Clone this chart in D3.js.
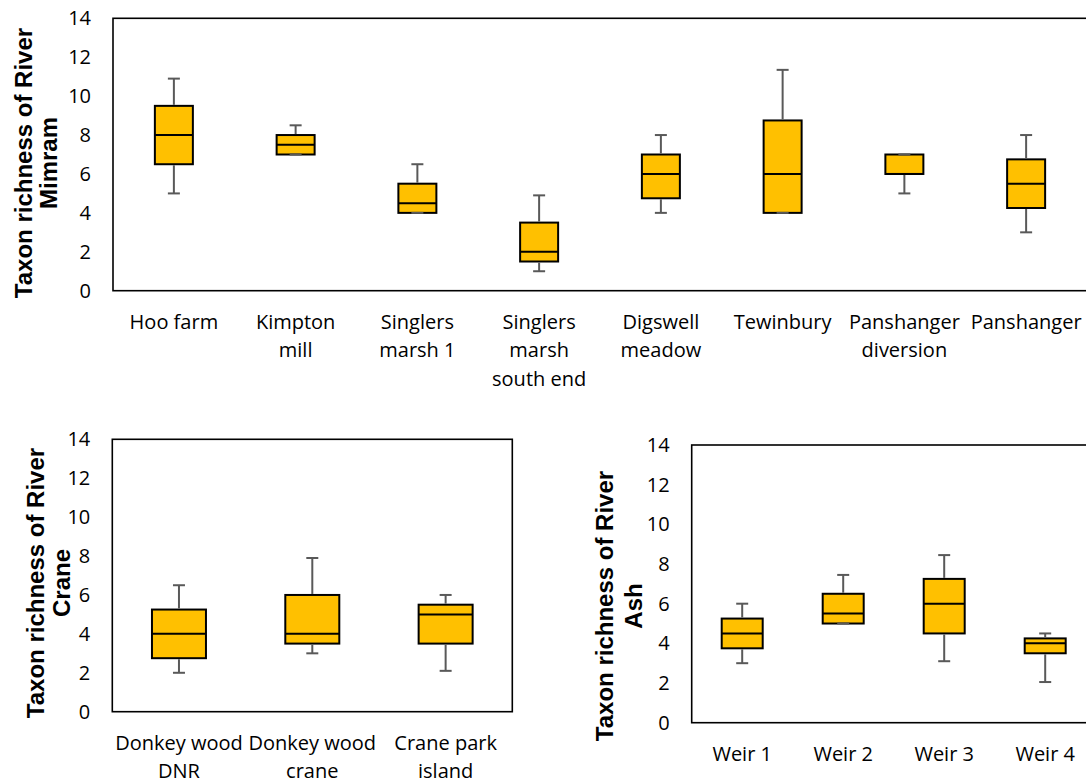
<!DOCTYPE html>
<html>
<head>
<meta charset="utf-8">
<script src="https://cdn.jsdelivr.net/npm/d3@7"></script>
<style>
  html, body { margin: 0; padding: 0; background: #fff; overflow: hidden; }
  svg { display: block; }
</style>
</head>
<body>
<svg id="chart" width="1086" height="782"></svg>
<script>
// Shared y-axis ticks (taxon richness)
const yTicks = [0, 2, 4, 6, 8, 10, 12, 14];

// River Mimram sites
const mimramSites  = ["Hoo farm", "Kimpton\nmill", "Singlers\nmarsh 1", "Singlers\nmarsh\nsouth end",
                      "Digswell\nmeadow", "Tewinbury", "Panshanger\ndiversion", "Panshanger"];
const mimramLow    = [5, 7, 4, 1, 4, 4, 5, 3];
const mimramQ1     = [6.5, 7, 4, 1.5, 4.75, 4, 6, 4.25];
const mimramMedian = [8, 7.5, 4.5, 2, 6, 6, 6, 5.5];
const mimramQ3     = [9.5, 8, 5.5, 3.5, 7, 8.75, 7, 6.75];
const mimramHigh   = [10.9, 8.5, 6.5, 4.9, 8, 11.35, 7, 8];

// River Crane sites
const craneSites  = ["Donkey wood\nDNR", "Donkey wood\ncrane", "Crane park\nisland"];
const craneLow    = [2, 3, 2.1];
const craneQ1     = [2.75, 3.5, 3.5];
const craneMedian = [4, 4, 5];
const craneQ3     = [5.25, 6, 5.5];
const craneHigh   = [6.5, 7.9, 6];

// River Ash sites
const ashSites  = ["Weir 1", "Weir 2", "Weir 3", "Weir 4"];
const ashLow    = [3, 5, 3.1, 2.05];
const ashQ1     = [3.75, 5, 4.5, 3.5];
const ashMedian = [4.5, 5.5, 6, 4];
const ashQ3     = [5.25, 6.5, 7.25, 4.25];
const ashHigh   = [6, 7.45, 8.45, 4.5];

const svg = d3.select("#chart");
const BOX_FILL = "#FFC000";
const WHISKER = "#595959";
const TICK_FONT = "'Open Sans', sans-serif";
const TITLE_FONT = "'Liberation Sans', Arial, sans-serif";

function buildRows(sites, low, q1, med, q3, high) {
  return sites.map((s, i) => ({ site: s, low: low[i], q1: q1[i], med: med[i], q3: q3[i], high: high[i] }));
}

function drawPanel(opt) {
  const g = svg.append("g");
  const y = d3.scaleLinear().domain([0, 14]).range([opt.bottom, opt.top]);
  const x = d3.scaleBand().domain(opt.rows.map(d => d.site)).range([opt.left, opt.right]);

  // plot frame
  g.append("rect")
    .attr("x", opt.left).attr("y", opt.top)
    .attr("width", opt.right - opt.left).attr("height", opt.bottom - opt.top)
    .attr("fill", "none").attr("stroke", "#000").attr("stroke-width", 1.6);

  // y axis labels
  const yAxis = g.append("g")
    .attr("transform", `translate(${opt.left},0)`)
    .call(d3.axisLeft(y).tickValues(yTicks).tickSize(0).tickPadding(22));
  yAxis.select(".domain").remove();
  yAxis.selectAll("text")
    .attr("font-family", TICK_FONT).attr("font-size", 20).attr("fill", "#000");

  // x axis labels (multi-line)
  const xAxis = g.append("g")
    .attr("transform", `translate(0,${opt.bottom})`)
    .call(d3.axisBottom(x).tickSize(0).tickFormat(""));
  xAxis.select(".domain").remove();
  xAxis.selectAll(".tick").each(function(d) {
    const t = d3.select(this).select("text")
      .attr("font-family", TICK_FONT).attr("font-size", 20).attr("fill", "#000")
      .attr("y", 38).attr("dy", null).text(null);
    d.split("\n").forEach((line, i) => {
      t.append("tspan").attr("x", 0).attr("y", 38 + i * 28.5).text(line);
    });
  });

  const cx = d => x(d.site) + x.bandwidth() / 2;
  const bw = opt.boxWidth;
  const boxes = g.selectAll(".box").data(opt.rows).join("g").attr("class", "box");

  boxes.append("rect")
    .attr("x", d => cx(d) - bw / 2)
    .attr("y", d => y(d.q3))
    .attr("width", bw)
    .attr("height", d => y(d.q1) - y(d.q3))
    .attr("fill", BOX_FILL).attr("stroke", "#000").attr("stroke-width", 2);

  boxes.append("line")
    .attr("x1", d => cx(d) - bw / 2).attr("x2", d => cx(d) + bw / 2)
    .attr("y1", d => y(d.med)).attr("y2", d => y(d.med))
    .attr("stroke", "#000").attr("stroke-width", 2);

  // whiskers with caps
  [["high", "q3"], ["low", "q1"]].forEach(([end, edge]) => {
    boxes.filter(d => d[end] !== d[edge]).append("line")
      .attr("x1", cx).attr("x2", cx)
      .attr("y1", d => y(d[edge]) + (end === "high" ? -1 : 1))
      .attr("y2", d => y(d[end]))
      .attr("stroke", WHISKER).attr("stroke-width", 2);
    boxes.append("line")
      .attr("x1", d => cx(d) - 6).attr("x2", d => cx(d) + 6)
      .attr("y1", d => y(d[end])).attr("y2", d => y(d[end]))
      .attr("stroke", WHISKER).attr("stroke-width", 2);
  });

  // y axis title (two lines, rotated)
  opt.title.forEach((line, i) => {
    g.append("text")
      .attr("transform", `translate(${opt.titleX[i]},${opt.titleY}) rotate(-90)`)
      .attr("text-anchor", "middle")
      .attr("font-family", TITLE_FONT).attr("font-weight", "bold")
      .attr("font-size", 24).attr("fill", "#000")
      .text(line);
  });
}

drawPanel({
  rows: buildRows(mimramSites, mimramLow, mimramQ1, mimramMedian, mimramQ3, mimramHigh),
  left: 113, right: 1087, top: 18.3, bottom: 290.7, boxWidth: 38,
  title: ["Taxon richness of River", "Mimram"], titleX: [31.5, 57], titleY: 163
});

drawPanel({
  rows: buildRows(craneSites, craneLow, craneQ1, craneMedian, craneQ3, craneHigh),
  left: 112.3, right: 512.3, top: 439.3, bottom: 711.7, boxWidth: 54,
  title: ["Taxon richness of River", "Crane"], titleX: [44, 70], titleY: 583
});

drawPanel({
  rows: buildRows(ashSites, ashLow, ashQ1, ashMedian, ashQ3, ashHigh),
  left: 691.7, right: 1095.7, top: 445, bottom: 722.7, boxWidth: 41,
  title: ["Taxon richness of River", "Ash"], titleX: [613, 641.5], titleY: 606
});
</script>
</body>
</html>
